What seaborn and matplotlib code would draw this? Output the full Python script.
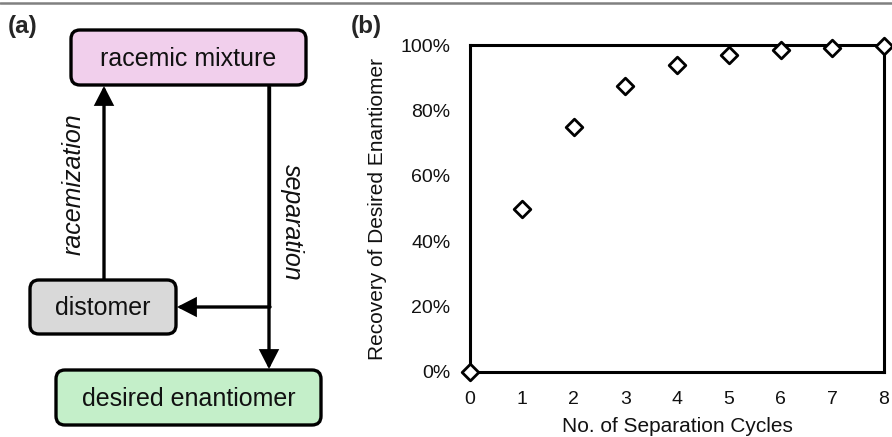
import matplotlib
matplotlib.use("Agg")
import matplotlib.pyplot as plt
import seaborn as sns
import pandas as pd
from matplotlib.patches import FancyBboxPatch, FancyArrowPatch
from matplotlib.lines import Line2D
from matplotlib.ticker import FuncFormatter

# ---- data ----
cycles = [0, 1, 2, 3, 4, 5, 6, 7, 8]
recovery = [0, 50, 75, 87.5, 93.8, 96.9, 98.4, 99.2, 99.6]
y_ticks = [0, 20, 40, 60, 80, 100]
x_ticks = [0, 1, 2, 3, 4, 5, 6, 7, 8]
box_labels = ["racemic mixture", "distomer", "desired enantiomer"]
flow_labels = ["racemization", "separation"]
x_label = "No. of Separation Cycles"
y_label = "Recovery of Desired Enantiomer"

sns.set_theme(style="white")
plt.rcParams['font.family'] = ['Liberation Sans', 'DejaVu Sans']

W, H = 892, 437
fig = plt.figure(figsize=(W / 100, H / 100), dpi=100)

# ---- panel (a): diagram in pixel coordinates ----
ax0 = fig.add_axes([0, 0, 1, 1])
ax0.set_xlim(0, W)
ax0.set_ylim(H, 0)
ax0.axis("off")

LW = 2.4
boxes = [
    (71, 30, 235, 55, "#F1CFEC"),
    (30, 280, 146, 54, "#D9D9D9"),
    (56, 370, 265, 55, "#C4EFC9"),
]
for (x, y, w, h, c), lab in zip(boxes, box_labels):
    p = FancyBboxPatch((x, y), w, h, boxstyle="round,pad=0,rounding_size=9",
                       facecolor=c, edgecolor="black", linewidth=LW)
    ax0.add_patch(p)
    ax0.text(x + w / 2, y + h / 2 + 1, lab, ha="center", va="center",
             fontsize=18, color="#111111")

astyle = "-|>,head_length=10.5,head_width=5.4"
def arrow(p1, p2):
    a = FancyArrowPatch(p1, p2, arrowstyle=astyle, mutation_scale=1,
                        color="black", linewidth=LW, shrinkA=0, shrinkB=0,
                        joinstyle="miter")
    ax0.add_patch(a)

arrow((104, 279), (104, 86))
arrow((269, 86), (269, 369))
ax0.plot([269, 269], [86, 307], color="black", lw=LW, solid_capstyle="butt")
arrow((270, 307), (177, 307))

ax0.text(74, 184, flow_labels[0], rotation=90, ha="center", va="center",
         fontsize=18, style="italic", color="#111111")
ax0.text(292, 222, flow_labels[1], rotation=270, ha="center", va="center",
         fontsize=18, style="italic", color="#111111")

ax0.text(8, 26, "(a)", fontsize=17.5, fontweight="bold", ha="left", va="center")
ax0.text(351, 26, "(b)", fontsize=17.5, fontweight="bold", ha="left", va="center")

fig.add_artist(Line2D([0, 1], [1 - 2.5 / H, 1 - 2.5 / H], color="#808080",
                      lw=1.8, transform=fig.transFigure))

# ---- panel (b): scatter ----
left, right, top, bottom = 470, 884, 45, 372
ax = fig.add_axes([left / W, 1 - bottom / H, (right - left) / W, (bottom - top) / H])
df = pd.DataFrame({"cycles": cycles, "recovery": recovery})
sns.scatterplot(data=df, x="cycles", y="recovery", ax=ax, marker="D", s=72,
                facecolor="white", edgecolor="black", linewidth=2.0,
                clip_on=False, zorder=5)
ax.set_xlim(0, 8)
ax.set_ylim(0, 100)
ax.set_xticks(x_ticks)
ax.set_yticks(y_ticks)
ax.yaxis.set_major_formatter(FuncFormatter(lambda v, p: f"{v:.0f}%"))
ax.tick_params(axis="both", length=0, labelsize=14, colors="#111111")
ax.tick_params(axis="y", pad=14)
ax.tick_params(axis="x", pad=14)
ax.set_xlabel(x_label, fontsize=15, color="#111111", labelpad=6)
ax.set_ylabel(y_label, fontsize=15, color="#111111", labelpad=10)
for s in ax.spines.values():
    s.set_visible(True)
    s.set_color("black")
    s.set_linewidth(2.2)
ax.grid(False)
ax.set_facecolor("white")

fig.savefig("out.png", dpi=100)
